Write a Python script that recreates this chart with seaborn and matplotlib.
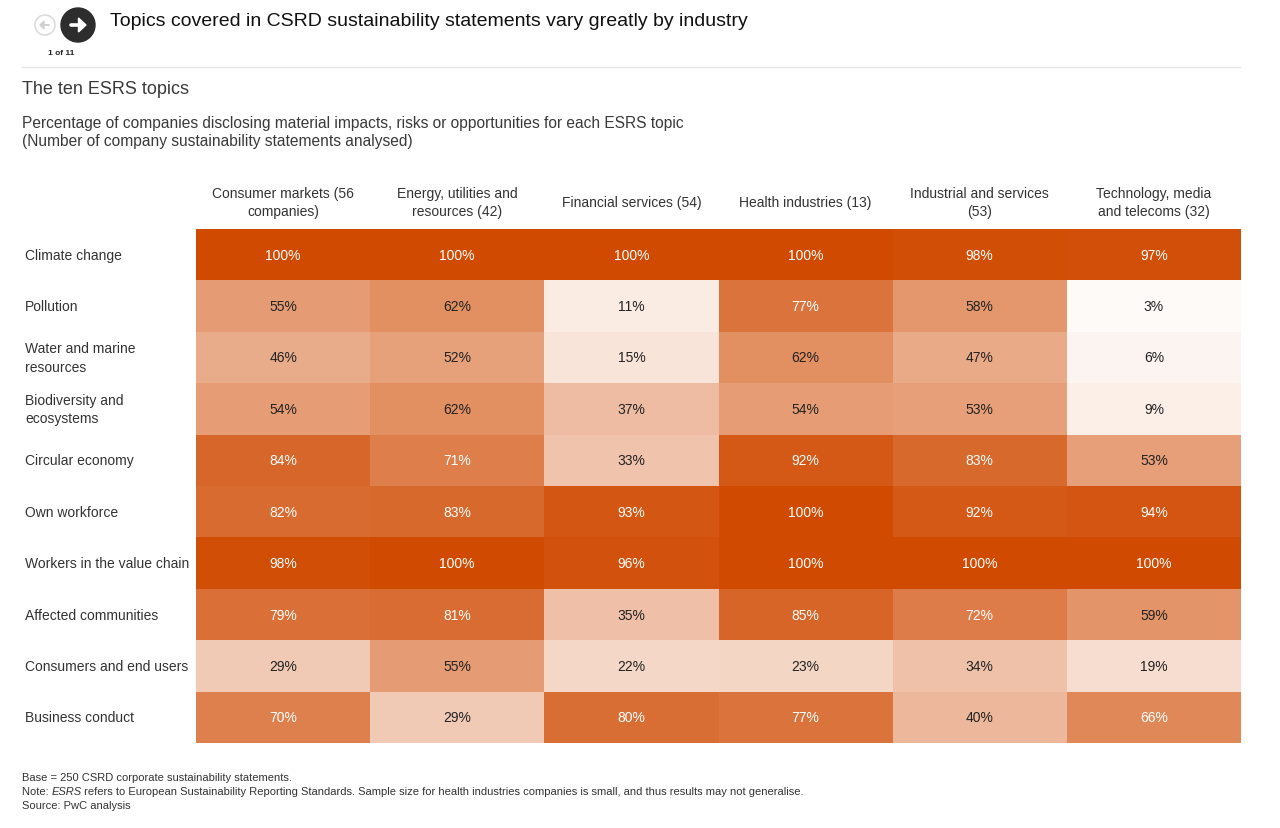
import numpy as np
import pandas as pd
import matplotlib
matplotlib.use("Agg")
import matplotlib.pyplot as plt
from matplotlib.colors import LinearSegmentedColormap
from matplotlib.patches import Circle, Polygon
import seaborn as sns

# ---------------- data ----------------
industries = [
    "Consumer markets (56\ncompanies)",
    "Energy, utilities and\nresources (42)",
    "Financial services (54)",
    "Health industries (13)",
    "Industrial and services\n(53)",
    "Technology, media\nand telecoms (32)",
]
topics = [
    "Climate change",
    "Pollution",
    "Water and marine\nresources",
    "Biodiversity and\necosystems",
    "Circular economy",
    "Own workforce",
    "Workers in the value chain",
    "Affected communities",
    "Consumers and end users",
    "Business conduct",
]
consumer_markets = [100, 55, 46, 54, 84, 82, 98, 79, 29, 70]
energy_utilities = [100, 62, 52, 62, 71, 83, 100, 81, 55, 29]
financial_services = [100, 11, 15, 37, 33, 93, 96, 35, 22, 80]
health_industries = [100, 77, 62, 54, 92, 100, 100, 85, 23, 77]
industrial_services = [98, 58, 47, 53, 83, 92, 100, 72, 34, 40]
technology_media = [97, 3, 6, 9, 53, 94, 100, 59, 19, 66]

title = "Topics covered in CSRD sustainability statements vary greatly by industry"
subtitle_main = "The ten ESRS topics"
subtitle_1 = "Percentage of companies disclosing material impacts, risks or opportunities for each ESRS topic"
subtitle_2 = "(Number of company sustainability statements analysed)"
foot_1 = "Base = 250 CSRD corporate sustainability statements."
foot_2a = "Note: "
foot_2b = "ESRS"
foot_2c = " refers to European Sustainability Reporting Standards. Sample size for health industries companies is small, and thus results may not generalise."
foot_3 = "Source: PwC analysis"

df = pd.DataFrame(
    np.array([consumer_markets, energy_utilities, financial_services,
              health_industries, industrial_services, technology_media]).T,
    index=topics, columns=industries)

# ---------------- figure ----------------
plt.rcParams['font.family'] = ['Liberation Sans', 'DejaVu Sans']
W, H = 1280, 829
fig = plt.figure(figsize=(W / 100, H / 100), dpi=100)

# overlay for decorations / text in pixel coords
ov = fig.add_axes([0, 0, 1, 1])
ov.set_xlim(0, W)
ov.set_ylim(H, 0)
ov.axis("off")

txt_dark = "#333333"

# navigation icons
ov.add_patch(Circle((45, 26), 10, facecolor="white", edgecolor="#dcdcdc", lw=1.2))
ov.plot([41, 49], [26, 26], color="#d0d0d0", lw=1.4, solid_capstyle="round")
ov.add_patch(Polygon([[40, 26], [44, 22], [44, 30]], closed=True, color="#d0d0d0"))
ov.add_patch(Circle((78, 26), 17, facecolor="#2d2d2d", edgecolor="#2d2d2d"))
ov.plot([71, 81], [26, 26], color="white", lw=2.6, solid_capstyle="round")
ov.add_patch(Polygon([[86, 26], [78.5, 19], [78.5, 33]], closed=True, color="white"))
ov.text(61, 53, "1 of 11", fontsize=6, fontweight="bold", ha="center", va="center", color="#222222")

ov.text(110, 21, title, fontsize=14, ha="left", va="center", color="#111111")
ov.plot([22, 1240], [68, 68], color="#e6e6e6", lw=1)

ov.text(22, 89, subtitle_main, fontsize=13, ha="left", va="center", color="#3a3a3a")
ov.text(22, 123, subtitle_1, fontsize=11.2, ha="left", va="center", color="#3a3a3a")
ov.text(22, 141, subtitle_2, fontsize=11.2, ha="left", va="center", color="#3a3a3a")

fs_foot = 8.0
ov.text(22, 778, foot_1, fontsize=fs_foot, ha="left", va="center", color=txt_dark)
t_a = ov.text(22, 792, foot_2a, fontsize=fs_foot, ha="left", va="center", color=txt_dark)
ov.text(22, 806, foot_3, fontsize=fs_foot, ha="left", va="center", color=txt_dark)
renderer = fig.canvas.get_renderer()
x_b = 22 + t_a.get_window_extent(renderer).width
t_b = ov.text(x_b, 792, foot_2b, fontsize=fs_foot, ha="left", va="center", color=txt_dark, style="italic")
x_c = x_b + t_b.get_window_extent(renderer).width - 1
ov.text(x_c, 792, foot_2c, fontsize=fs_foot, ha="left", va="center", color=txt_dark)

# ---------------- heatmap ----------------
left, right, top, bottom = 196, 1241, 230, 744
ax = fig.add_axes([left / W, 1 - bottom / H, (right - left) / W, (bottom - top) / H])
cmap = LinearSegmentedColormap.from_list("pwc", ["#ffffff", "#d04a02"])
labels = df.map(lambda v: f"{v}%")
sns.heatmap(df, ax=ax, cmap=cmap, vmin=0, vmax=100, cbar=False,
            annot=labels.values, fmt="", annot_kws={"fontsize": 10},
            linewidths=0, square=False)
vals = df.values.ravel()
for t, v in zip(ax.texts, vals):
    t.set_color("white" if v >= 65 else "#222222")

ax.xaxis.tick_top()
ax.set_xlabel("")
ax.set_ylabel("")
ax.tick_params(axis="x", length=0, pad=19.4)
ax.tick_params(axis="y", length=0, pad=123)
for lab in ax.get_xticklabels():
    lab.set_rotation(0)
    lab.set_va("center")
    lab.set_ha("center")
    lab.set_fontsize(10)
    lab.set_color(txt_dark)
    lab.set_linespacing(1.35)
for lab in ax.get_yticklabels():
    lab.set_rotation(0)
    lab.set_ha("left")
    lab.set_va("center")
    lab.set_fontsize(10)
    lab.set_color(txt_dark)
    lab.set_linespacing(1.4)
for s in ax.spines.values():
    s.set_visible(False)

fig.savefig("out.png", dpi=100, facecolor="white")
